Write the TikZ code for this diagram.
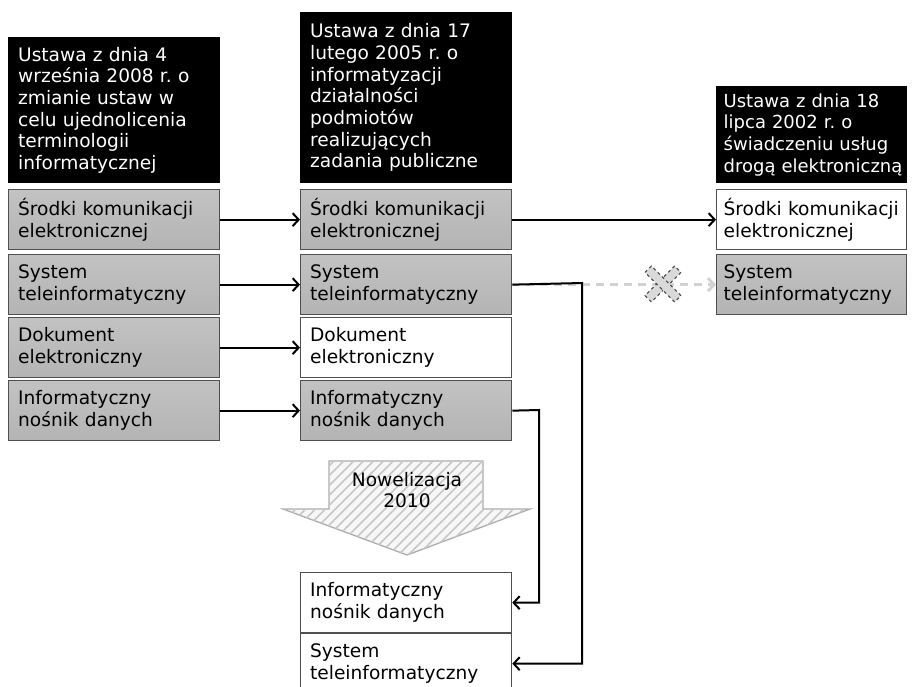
\documentclass[tikz,border=0pt]{standalone}
\usepackage{fontspec}
\setmainfont{DejaVu Sans}
\frenchspacing
\usetikzlibrary{arrows.meta,patterns.meta}
\definecolor{boxtop}{RGB}{194,194,194}
\definecolor{boxbot}{RGB}{180,180,180}
\definecolor{edgegray}{RGB}{80,80,80}
\begin{document}
\begin{tikzpicture}[x=1pt,y=-1pt,
 base/.style={draw=edgegray,line width=1.3pt,anchor=north west,minimum width=211pt,minimum height=60pt,text width=192pt,align=left,inner sep=0pt,font=\fontsize{18.6}{21.7}\selectfont},
 graybox/.style={base,top color=boxtop,bottom color=boxbot},
 whitebox/.style={base,fill=white},
 header/.style={base,fill=black,draw=black,text=white},
 narrow/.style={minimum width=190pt,text width=176pt},
 conn/.style={line width=2pt,-{Straight Barb[length=6pt,width=13pt,line width=2pt]}},
 ghost/.style={draw=gray!35,line width=3pt,dash pattern=on 8pt off 6pt,-{Straight Barb[length=6pt,width=13pt,line width=3pt]}},
 xbar/.style={draw=gray!55!black,dashed,fill=gray!30,minimum width=42pt,minimum height=9pt,inner sep=0pt,line width=1.1pt},
 novel/.style={draw=gray!65,line width=1.3pt,fill=gray!6,postaction={pattern={Lines[angle=45,distance=7pt,line width=1.6pt]},pattern color=gray!45}},
]
\useasboundingbox (0,0) rectangle (917,686);

% left column
\node[header,minimum height=145pt] (lh) at (8,37) {Ustawa z dnia 4\\września 2008 r. o\\zmianie ustaw w\\celu ujednolicenia\\terminologii\\informatycznej};
\node[graybox] (l1) at (8,189) {Środki komunikacji\\elektronicznej};
\node[graybox] (l2) at (8,254) {System\\teleinformatyczny};
\node[graybox] (l3) at (8,317) {Dokument\\elektroniczny};
\node[graybox] (l4) at (8,380) {Informatyczny\\nośnik danych};

% middle column
\node[header,minimum height=170pt] (mh) at (300,12) {Ustawa z dnia 17\\lutego 2005 r. o\\informatyzacji\\działalności\\podmiotów\\realizujących\\zadania publiczne};
\node[graybox] (m1) at (300,189) {Środki komunikacji\\elektronicznej};
\node[graybox] (m2) at (300,254) {System\\teleinformatyczny};
\node[whitebox] (m3) at (300,317) {Dokument\\elektroniczny};
\node[graybox] (m4) at (300,380) {Informatyczny\\nośnik danych};

% right column
\node[header,narrow,minimum height=96pt,font=\fontsize{18}{21.7}\selectfont] (rh) at (716,86) {Ustawa z dnia 18\\lipca 2002 r. o\\świadczeniu usług\\\mbox{drogą elektroniczną}};
\node[whitebox,narrow] (r1) at (716,189) {Środki komunikacji\\elektronicznej};
\node[graybox,narrow] (r2) at (716,254) {System\\teleinformatyczny};

% novelization arrow
\draw[novel] (329,461) -- (483,461) -- (483,509) -- (530,509) -- (407,555) -- (283,509) -- (329,509) -- cycle;
\node[align=center,font=\fontsize{18.6}{21.7}\selectfont,inner sep=0pt] (nov) at (407,490) {Nowelizacja\\2010};

% bottom boxes
\node[whitebox] (b1) at (300,572) {Informatyczny\\nośnik danych};
\node[whitebox] (b2) at (300,633) {System\\teleinformatyczny};

% connectors
\coordinate (c2) at (582,283);
\coordinate (c4) at (539,410);
\coordinate (xc) at (663,284);

\draw[ghost] (m2.east) -- (r2.west);
\node[xbar,rotate=45] (x1) at (xc) {};
\node[xbar,rotate=-45] (x2) at (xc) {};

\draw[conn] (l1.east) -- (m1.west);
\draw[conn] (l2.east) -- (m2.west);
\draw[conn] (l3.east) -- (m3.west);
\draw[conn] (l4.east) -- (m4.west);
\draw[conn] (m1.east) -- (r1.west);
\draw[conn] (m2.east) -- (c2) |- (b2.east);
\draw[conn] (m4.east) -- (c4) |- (b1.east);
\end{tikzpicture}
\end{document}
